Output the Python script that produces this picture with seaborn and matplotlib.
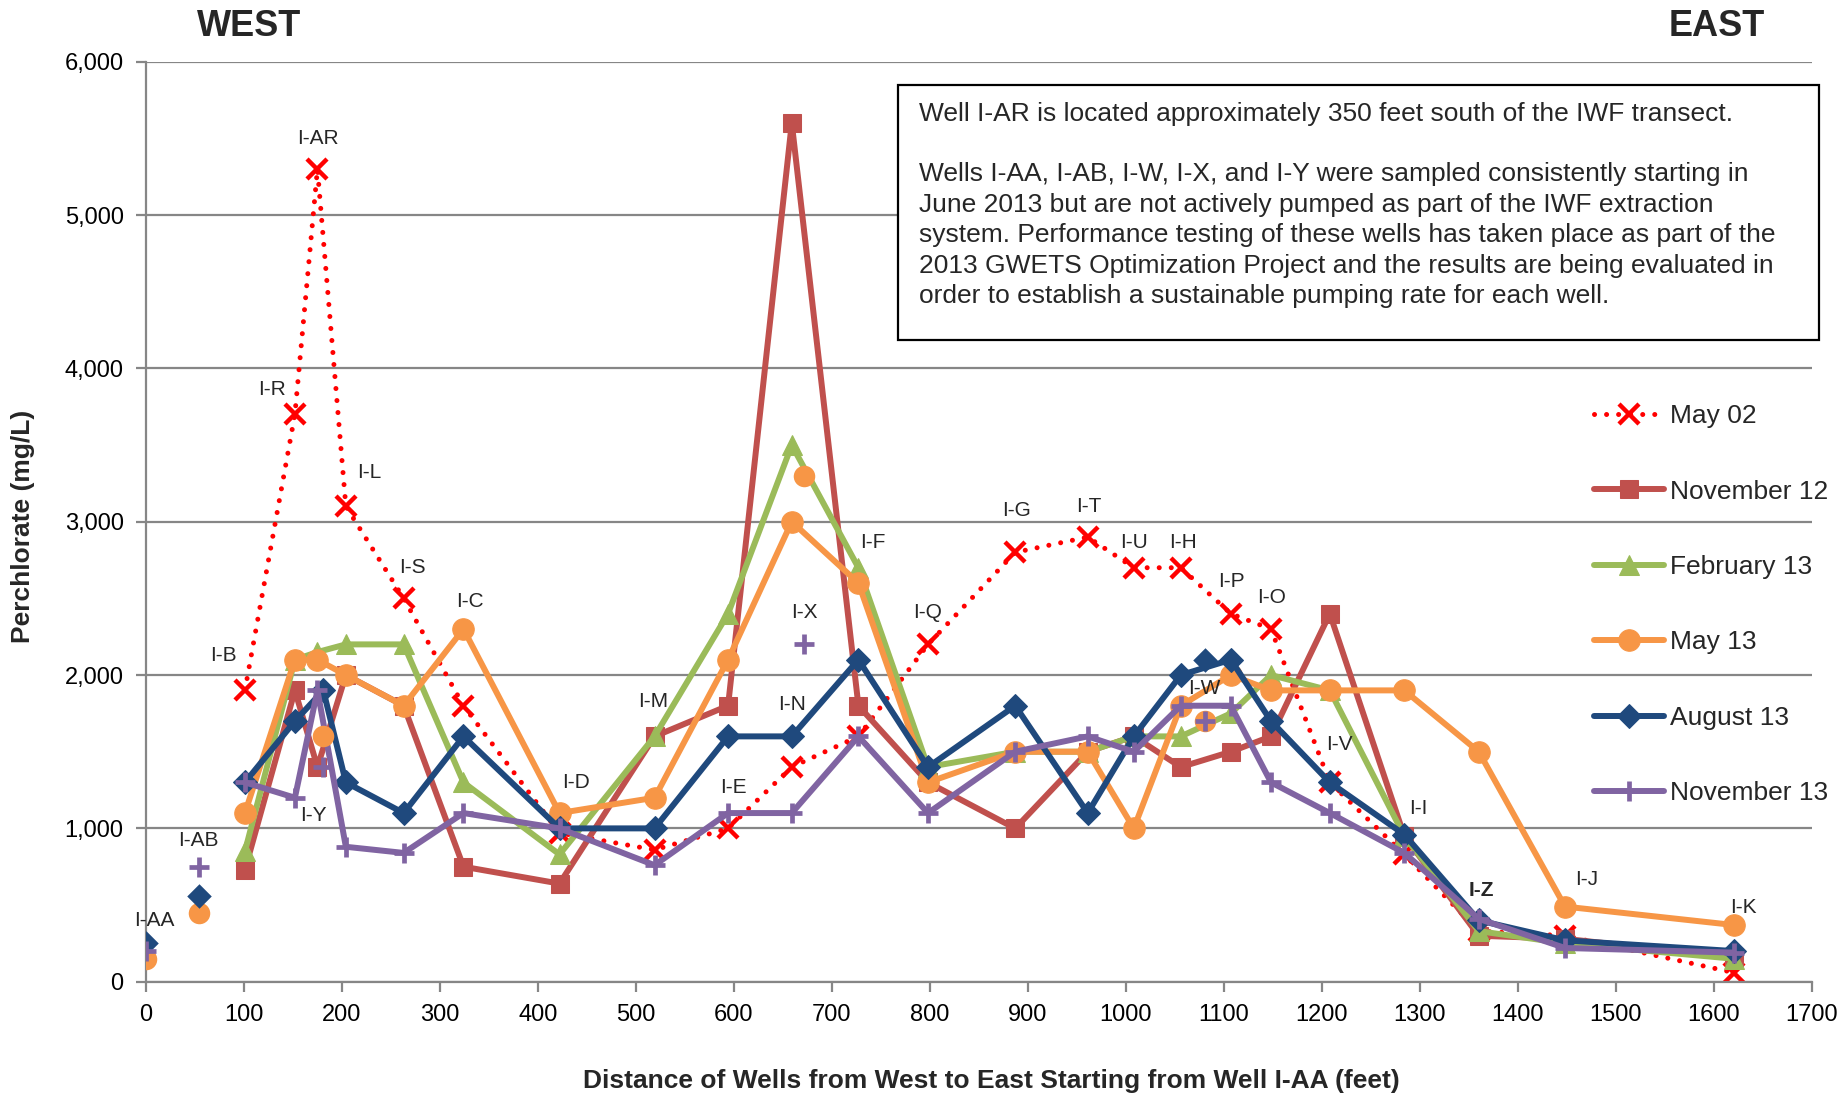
import seaborn as sns
import matplotlib.pyplot as plt
from matplotlib.patches import Rectangle
from matplotlib.ticker import FuncFormatter, MultipleLocator

# Brunnen und Abstand ab I-AA (feet)
wells = ["I-AA", "I-AB", "I-B", "I-R", "I-AR", "I-Y", "I-L", "I-S", "I-C", "I-D",
         "I-M", "I-E", "I-N", "I-X", "I-F", "I-Q", "I-G", "I-T", "I-U", "I-H",
         "I-W", "I-P", "I-O", "I-V", "I-I", "I-Z", "I-J", "I-K"]
distance = [0, 54, 101, 152, 175, 181, 204, 263, 324, 422,
            519, 594, 659, 671, 727, 798, 887, 961, 1008, 1056,
            1081, 1107, 1148, 1208, 1284, 1360, 1448, 1620]
dist = dict(zip(wells, distance))

# Extraktionsbrunnen entlang des Transekts
line_wells = ["I-B", "I-R", "I-AR", "I-L", "I-S", "I-C", "I-D", "I-M", "I-E", "I-N",
              "I-F", "I-Q", "I-G", "I-T", "I-U", "I-H", "I-P", "I-O", "I-V", "I-I",
              "I-Z", "I-J", "I-K"]
aug13_wells = ["I-B", "I-R", "I-Y", "I-L", "I-S", "I-C", "I-D", "I-M", "I-E", "I-N",
               "I-F", "I-Q", "I-G", "I-T", "I-U", "I-H", "I-P", "I-O", "I-V", "I-I",
               "I-Z", "I-J", "I-K"]

may02 = [1900, 3700, 5300, 3100, 2500, 1800, 970, 860, 1000, 1400, 1600, 2200,
         2800, 2900, 2700, 2700, 2400, 2300, 1300, 830, 330, 300, 60]
nov12 = [730, 1900, 1400, 2000, 1800, 750, 640, 1600, 1800, 5600, 1800, 1300,
         1000, 1500, 1600, 1400, 1500, 1600, 2400, 950, 300, 280, 160]
feb13 = [850, 2100, 2150, 2200, 2200, 1300, 830, 1600, 2400, 3500, 2700, 1400,
         1500, 1500, 1600, 1600, 1750, 2000, 1900, 950, 330, 250, 150]
may13 = [1100, 2100, 2100, 2000, 1800, 2300, 1100, 1200, 2100, 3000, 2600, 1300,
         1500, 1500, 1000, 1800, 2000, 1900, 1900, 1900, 1500, 490, 370]
aug13 = [1300, 1700, 1900, 1300, 1100, 1600, 1000, 1000, 1600, 1600, 2100, 1400,
         1800, 1100, 1600, 2000, 2100, 1700, 1300, 960, 400, 270, 200]
nov13 = [1300, 1200, 1900, 880, 840, 1100, 1000, 760, 1100, 1100, 1600, 1100,
         1500, 1600, 1500, 1800, 1800, 1300, 1100, 840, 410, 220, 190]

# nicht gepumpte Brunnen (Einzelpunkte)
may13_iso_wells = ["I-AA", "I-AB", "I-Y", "I-X", "I-W"]
may13_iso = [150, 450, 1600, 3300, 1700]
aug13_iso_wells = ["I-AA", "I-AB", "I-W"]
aug13_iso = [250, 560, 2100]
nov13_iso_wells = ["I-AA", "I-AB", "I-Y", "I-X", "I-W"]
nov13_iso = [200, 750, 1400, 2200, 1700]

note_lines = [
    "Well I-AR is located approximately 350 feet south of the IWF transect.",
    "",
    "Wells I-AA, I-AB, I-W, I-X, and I-Y were sampled consistently starting in",
    "June 2013 but are not actively pumped as part of the IWF extraction",
    "system. Performance testing of these wells has taken place as part of the",
    "2013 GWETS Optimization Project and the results are being evaluated in",
    "order to establish a sustainable pumping rate for each well.",
]

sns.set_theme(style="white")
plt.rcParams["font.family"] = ["Liberation Sans", "DejaVu Sans"]

W, H = 1845, 1098
fig = plt.figure(figsize=(W / 100, H / 100), dpi=100)
ax = fig.add_axes([0.0791, 0.1059, 0.9030, 0.8379])

series = [
    ("May 02", line_wells, may02, dict(color="#FF0000", marker="x", markersize=15, markeredgewidth=3.2,
                                       linewidth=3.6, linestyle=(0, (0.01, 2.4)), dash_capstyle="round")),
    ("November 12", line_wells, nov12, dict(color="#C0504D", marker="s", markersize=13.5, linewidth=4.3)),
    ("February 13", line_wells, feb13, dict(color="#9BBB59", marker="^", markersize=15, linewidth=4.3)),
    ("May 13", line_wells, may13, dict(color="#F79646", marker="o", markersize=15.5, linewidth=4.3)),
    ("August 13", aug13_wells, aug13, dict(color="#1F497D", marker="D", markersize=12.5, linewidth=4.3)),
    ("November 13", line_wells, nov13, dict(color="#8064A2", marker="+", markersize=15, markeredgewidth=3.4,
                                            linewidth=4.3)),
]

for name, wl, vals, st in series:
    sns.lineplot(x=[dist[w] for w in wl], y=vals, ax=ax, label=name, legend=False,
                 sort=False, errorbar=None, markeredgecolor=st["color"], **st)

# Einzelpunkte
sns.scatterplot(x=[dist[w] for w in may13_iso_wells], y=may13_iso, ax=ax, marker="o", s=240,
                color="#F79646", edgecolor="#F79646", linewidth=0, legend=False, zorder=4)
sns.scatterplot(x=[dist[w] for w in aug13_iso_wells], y=aug13_iso, ax=ax, marker="D", s=156,
                color="#1F497D", edgecolor="#1F497D", linewidth=0, legend=False, zorder=4)
sns.scatterplot(x=[dist[w] for w in nov13_iso_wells], y=nov13_iso, ax=ax, marker="+", s=225,
                color="#8064A2", linewidth=3.4, legend=False, zorder=5)

# Brunnenbeschriftung
label_pos = {
    "I-AA": (9, 402), "I-AB": (53, 924), "I-B": (79, 2125), "I-R": (129, 3864),
    "I-AR": (175, 5497), "I-Y": (171, 1081), "I-L": (228, 3320), "I-S": (272, 2701),
    "I-C": (331, 2479), "I-D": (439, 1298), "I-M": (518, 1827), "I-E": (599, 1268),
    "I-N": (659, 1805), "I-X": (672, 2407), "I-F": (742, 2864), "I-Q": (798, 2410),
    "I-G": (888, 3073), "I-T": (962, 3099), "I-U": (1008, 2864), "I-H": (1058, 2864),
    "I-W": (1080, 1914), "I-P": (1108, 2610), "I-O": (1149, 2508), "I-V": (1218, 1544),
    "I-I": (1298, 1131), "I-Z": (1363, 594), "I-J": (1470, 668), "I-K": (1630, 485),
}
for w, (lx, ly) in label_pos.items():
    ax.text(lx, ly, w, ha="center", va="center", fontsize=15, zorder=10,
            fontweight="bold" if w == "I-Z" else "normal")

grey = "#868686"
ax.set_xlim(0, 1700)
ax.set_ylim(0, 6000)
ax.xaxis.set_major_locator(MultipleLocator(100))
ax.yaxis.set_major_locator(MultipleLocator(1000))
ax.yaxis.set_major_formatter(FuncFormatter(lambda v, p: f"{int(v):,}"))
ax.yaxis.grid(True, color=grey, linewidth=1.6)
ax.xaxis.grid(False)
ax.set_axisbelow(True)
for s in ["top", "right"]:
    ax.spines[s].set_visible(False)
for s in ["left", "bottom"]:
    ax.spines[s].set_color(grey)
    ax.spines[s].set_linewidth(1.6)
ax.tick_params(axis="both", bottom=True, left=True, direction="out", length=7, width=1.6,
               color=grey, labelcolor="black", labelsize=17, pad=9)
ax.set_xlabel("")
ax.set_ylabel("")

fig.text(0.5373, 0.0151, "Distance of Wells from West to East Starting from Well I-AA (feet)",
         ha="center", va="center", fontsize=19, fontweight="bold")
fig.text(23.5 / W, 0.521, "Perchlorate (mg/L)", rotation=90, ha="center", va="center",
         fontsize=19, fontweight="bold")
fig.text(249 / W, 1 - 26 / H, "WEST", ha="center", va="center", fontsize=26, fontweight="bold")
fig.text(1717 / W, 1 - 26 / H, "EAST", ha="center", va="center", fontsize=26, fontweight="bold")

# Hinweisbox
fig.add_artist(Rectangle((898 / W, 1 - 340 / H), (1819 - 898) / W, (340 - 84.7) / H,
                         transform=fig.transFigure, facecolor="white", edgecolor="black",
                         linewidth=1.6, zorder=2))
for i, line in enumerate(note_lines):
    fig.text(919 / W, 1 - (120.5 + i * 30.4) / H, line, ha="left", va="baseline",
             fontsize=19, zorder=3)

handles, labels = ax.get_legend_handles_labels()
fig.legend(handles, labels, loc="upper left", bbox_to_anchor=(0.8642, 0.632), frameon=False,
           fontsize=19, handlelength=2.65, handletextpad=0.2, labelspacing=1.95,
           borderpad=0, borderaxespad=0, numpoints=1)

fig.savefig("out.png", dpi=100)
